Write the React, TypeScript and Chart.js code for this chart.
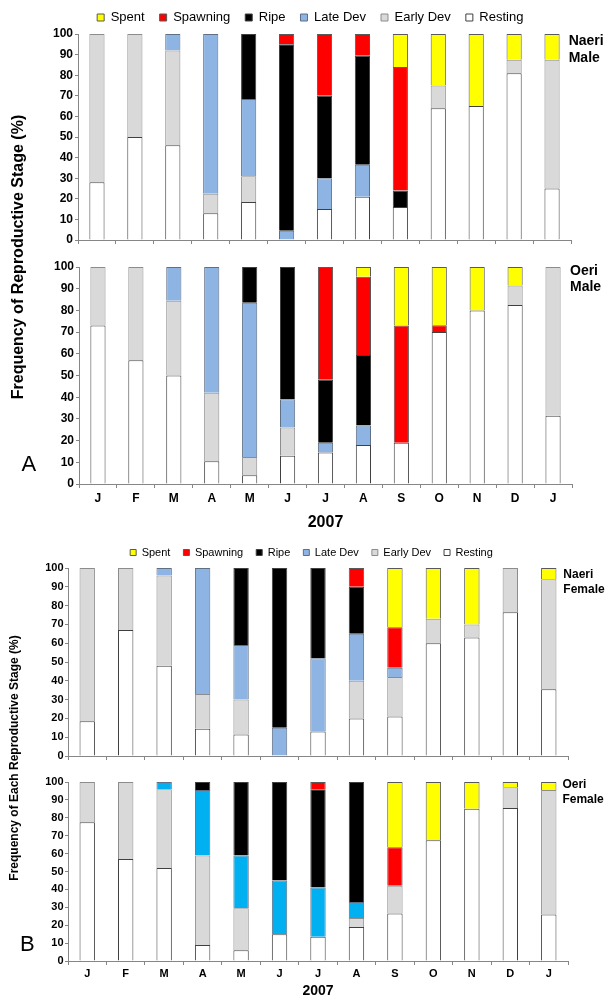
import React, { useEffect, useRef } from 'react';
import { Chart, registerables } from 'chart.js';

Chart.register(...registerables);

// ---------- data ----------
const months = ['J', 'F', 'M', 'A', 'M', 'J', 'J', 'A', 'S', 'O', 'N', 'D', 'J'];
const stageNames = ['Resting', 'Early Dev', 'Late Dev', 'Ripe', 'Spawning', 'Spent'];
const xTitleText = '2007';

// Naeri Male (A, top)
const naeriMaleResting = [28, 50, 46, 13, 18.5, null, 15, 21, 16, 64, 65, 81, 25];
const naeriMaleEarly = [72, 50, 46, 9.5, 12.5, null, null, null, null, 11, null, 6.5, 62.5];
const naeriMaleLate = [null, null, 8, 77.5, 37.5, 4.5, 15, 15.5, null, null, null, null, null];
const naeriMaleRipe = [null, null, null, null, 31.5, 90.5, 40, 53, 8, null, null, null, null];
const naeriMaleSpawning = [null, null, null, null, null, 5, 30, 10.5, 60, null, null, null, null];
const naeriMaleSpent = [null, null, null, null, null, null, null, null, 16, 25, 35, 12.5, 12.5];

// Oeri Male (A, bottom)
const oeriMaleResting = [73, 57, 50, 10.5, 4, 13, 14.5, 18, 19, 70, 80, 82.5, 31.5];
const oeriMaleEarly = [27, 43, 34.5, 31.5, 8.5, 13, null, null, null, null, null, 9, 68.5];
const oeriMaleLate = [null, null, 15.5, 58, 71, 13, 4.5, 9, null, null, null, null, null];
const oeriMaleRipe = [null, null, null, null, 16.5, 61, 29, 32.5, null, null, null, null, null];
const oeriMaleSpawning = [null, null, null, null, null, null, 52, 36, 54, 3.2, null, null, null];
const oeriMaleSpent = [null, null, null, null, null, null, null, 4.5, 27, 26.8, 20, 8.5, null];

// Naeri Female (B, top)
const naeriFemaleResting = [18.5, 67, 48, 14.5, 11.5, null, 13, 20, 21, 60, 63, 76.5, 35.5];
const naeriFemaleEarly = [81.5, 33, 48, 18.5, 18.5, null, null, 20, 21, 13, 7, 23.5, 58.5];
const naeriFemaleLate = [null, null, 4, 67, 29, 15, 39, 25, 5, null, null, null, null];
const naeriFemaleRipe = [null, null, null, null, 41, 85, 48, 25, null, null, null, null, null];
const naeriFemaleSpawning = [null, null, null, null, null, null, null, 10, 21.5, null, null, null, null];
const naeriFemaleSpent = [null, null, null, null, null, null, null, null, 31.5, 27, 30, null, 6];

// Oeri Female (B, bottom)
const oeriFemaleResting = [77.5, 57, 52, 9, 6, 15, 13.5, 19, 26.5, 67.5, 85, 85.5, 26];
const oeriFemaleEarly = [22.5, 43, 44, 50, 23.5, null, null, 5, 15.5, null, null, 11.5, 69.5];
const oeriFemaleLate = [null, null, 4, 36.5, 29.5, 30, 27.5, 9, null, null, null, null, null];
const oeriFemaleRipe = [null, null, null, 4.5, 41, 55, 55, 67, null, null, null, null, null];
const oeriFemaleSpawning = [null, null, null, null, null, null, 4, null, 21.5, null, null, null, null];
const oeriFemaleSpent = [null, null, null, null, null, null, null, null, 36.5, 32.5, 15, 3, 4.5];

// ---------- styles ----------
const FONT = "'Liberation Sans', Arial, sans-serif";
const AXIS = '#868686';
const fillsA = ['#FFFFFF', '#D9D9D9', '#8DB4E2', '#000000', '#FF0000', '#FFFF00'];
const fillsB2 = ['#FFFFFF', '#D9D9D9', '#00B0F0', '#000000', '#FF0000', '#FFFF00'];
const borders = ['#404040', '#8C8C8C', '#5F6F86', '#404040', '#595959', '#595959'];

type PanelCfg = {
  series: (number | null)[][];
  fills: string[];
  top: number;
  height: number;
  padR: number;
  padT: number;
  yW: number;
  xH: number;
  legend: boolean;
  legSize?: number;
  legPad?: number;
  legBox?: number;
  legDx?: number;
  xLabels: boolean;
  tickSize: number;
  xTickPad: number;
  yTickPad: number;
  xTitle: boolean;
  xTitleSize?: number;
  xTitlePad?: number;
};

function Panel({ cfg }: { cfg: PanelCfg }) {
  const ref = useRef<HTMLCanvasElement | null>(null);
  useEffect(() => {
    if (!ref.current) return;
    const tickFont = { family: FONT, size: cfg.tickSize, weight: 'bold' as const };
    const legendShift = {
      id: 'legendShift',
      afterLayout(chart: any) {
        if (chart.legend && cfg.legDx) {
          chart.legend.left += cfg.legDx;
          chart.legend.right += cfg.legDx;
        }
      },
    };
    const chart = new Chart(ref.current, {
      type: 'bar',
      data: {
        labels: months,
        datasets: stageNames.map((name, i) => ({
          label: name,
          data: cfg.series[i],
          backgroundColor: cfg.fills[i],
          borderColor: borders[i],
          borderWidth: 1,
          barPercentage: 0.4,
          categoryPercentage: 1,
        })),
      },
      plugins: [legendShift],
      options: {
        responsive: false,
        maintainAspectRatio: false,
        animation: false,
        layout: { padding: { left: 0, right: cfg.padR, top: cfg.padT, bottom: 0 } },
        plugins: {
          legend: cfg.legend
            ? {
                display: true,
                position: 'top',
                reverse: true,
                labels: {
                  boxWidth: cfg.legBox,
                  boxHeight: cfg.legBox,
                  padding: cfg.legPad,
                  color: '#000',
                  font: { family: FONT, size: cfg.legSize },
                },
              }
            : { display: false },
          tooltip: { enabled: false },
        },
        scales: {
          x: {
            stacked: true,
            offset: true,
            grid: { display: true, offset: true, drawOnChartArea: false, drawTicks: true, tickLength: 4, color: AXIS },
            border: { display: true, color: AXIS },
            ticks: {
              display: cfg.xLabels,
              padding: cfg.xTickPad,
              color: '#000',
              font: tickFont,
              maxRotation: 0,
              autoSkip: false,
            },
            title: cfg.xTitle
              ? {
                  display: true,
                  text: xTitleText,
                  color: '#000',
                  font: { family: FONT, size: cfg.xTitleSize, weight: 'bold', lineHeight: 1.2 },
                  padding: { top: 0, bottom: cfg.xTitlePad },
                }
              : { display: false },
            afterFit: (s: any) => {
              s.height = cfg.xH;
            },
          },
          y: {
            stacked: true,
            min: 0,
            max: 100,
            ticks: { stepSize: 10, padding: cfg.yTickPad, color: '#000', font: tickFont },
            grid: { display: true, drawOnChartArea: false, drawTicks: true, tickLength: 3, color: AXIS },
            border: { display: true, color: AXIS },
            afterFit: (s: any) => {
              s.width = cfg.yW;
            },
          },
        },
      },
    } as any);
    return () => chart.destroy();
  }, [cfg]);
  return (
    <canvas
      ref={ref}
      width={606}
      height={cfg.height}
      style={{ position: 'absolute', left: 0, top: cfg.top, width: 606, height: cfg.height }}
    />
  );
}

const panelA1: PanelCfg = {
  series: [naeriMaleResting, naeriMaleEarly, naeriMaleLate, naeriMaleRipe, naeriMaleSpawning, naeriMaleSpent],
  fills: fillsA,
  top: -4, height: 254, padR: 35, padT: 0, yW: 78, xH: 10,
  legend: true, legSize: 13, legPad: 15, legBox: 7, legDx: 24.8,
  xLabels: false, tickSize: 12, xTickPad: 3, yTickPad: 2, xTitle: false,
};
const panelA2: PanelCfg = {
  series: [oeriMaleResting, oeriMaleEarly, oeriMaleLate, oeriMaleRipe, oeriMaleSpawning, oeriMaleSpent],
  fills: fillsA,
  top: 250, height: 285, padR: 34, padT: 17, yW: 79, xH: 51,
  legend: false,
  xLabels: true, tickSize: 12, xTickPad: 3, yTickPad: 2, xTitle: true, xTitleSize: 16, xTitlePad: 2.4,
};
const panelB1: PanelCfg = {
  series: [naeriFemaleResting, naeriFemaleEarly, naeriFemaleLate, naeriFemaleRipe, naeriFemaleSpawning, naeriFemaleSpent],
  fills: fillsA,
  top: 534, height: 232, padR: 38, padT: 0, yW: 68, xH: 10,
  legend: true, legSize: 11, legPad: 13, legBox: 6, legDx: 27.5,
  xLabels: false, tickSize: 11, xTickPad: 2, yTickPad: 1.5, xTitle: false,
};
const panelB2: PanelCfg = {
  series: [oeriFemaleResting, oeriFemaleEarly, oeriFemaleLate, oeriFemaleRipe, oeriFemaleSpawning, oeriFemaleSpent],
  fills: fillsB2,
  top: 766, height: 234, padR: 38, padT: 16, yW: 68, xH: 39,
  legend: false,
  xLabels: true, tickSize: 11, xTickPad: 2, yTickPad: 1.5, xTitle: true, xTitleSize: 14, xTitlePad: 0.6,
};

const abs = (o: React.CSSProperties): React.CSSProperties => ({
  position: 'absolute',
  fontFamily: FONT,
  color: '#000',
  whiteSpace: 'nowrap',
  margin: 0,
  ...o,
});

export default function App() {
  return (
    <div style={{ position: 'absolute', left: 0, top: 0, width: 606, height: 996, overflow: 'hidden', background: '#fff' }}>
      <Panel cfg={panelA1} />
      <Panel cfg={panelA2} />
      <Panel cfg={panelB1} />
      <Panel cfg={panelB2} />

      <div
        style={abs({
          left: 16.7, top: 256.5, fontSize: 16, fontWeight: 'bold', lineHeight: '19px',
          transform: 'translate(-50%, -50%) rotate(-90deg)',
        })}
      >
        Frequency of Reproductive Stage (%)
      </div>
      <div
        style={abs({
          left: 14.2, top: 757.5, fontSize: 12, fontWeight: 'bold', lineHeight: '14px',
          transform: 'translate(-50%, -50%) rotate(-90deg)',
        })}
      >
        Frequency of Each Reproductive Stage (%)
      </div>

      <div style={abs({ left: 21.5, top: 453.3, fontSize: 22, lineHeight: '22px' })}>A</div>
      <div style={abs({ left: 20, top: 932.6, fontSize: 22, lineHeight: '22px' })}>B</div>

      <div style={abs({ left: 568.7, top: 31.75, fontSize: 14, fontWeight: 'bold', lineHeight: '16.8px' })}>
        Naeri<br />Male
      </div>
      <div style={abs({ left: 570, top: 262.4, fontSize: 14, fontWeight: 'bold', lineHeight: '16px' })}>
        Oeri<br />Male
      </div>
      <div style={abs({ left: 563.3, top: 566.6, fontSize: 12, fontWeight: 'bold', lineHeight: '15px' })}>
        Naeri<br />Female
      </div>
      <div style={abs({ left: 562.4, top: 777.3, fontSize: 12, fontWeight: 'bold', lineHeight: '15px' })}>
        Oeri<br />Female
      </div>
    </div>
  );
}
